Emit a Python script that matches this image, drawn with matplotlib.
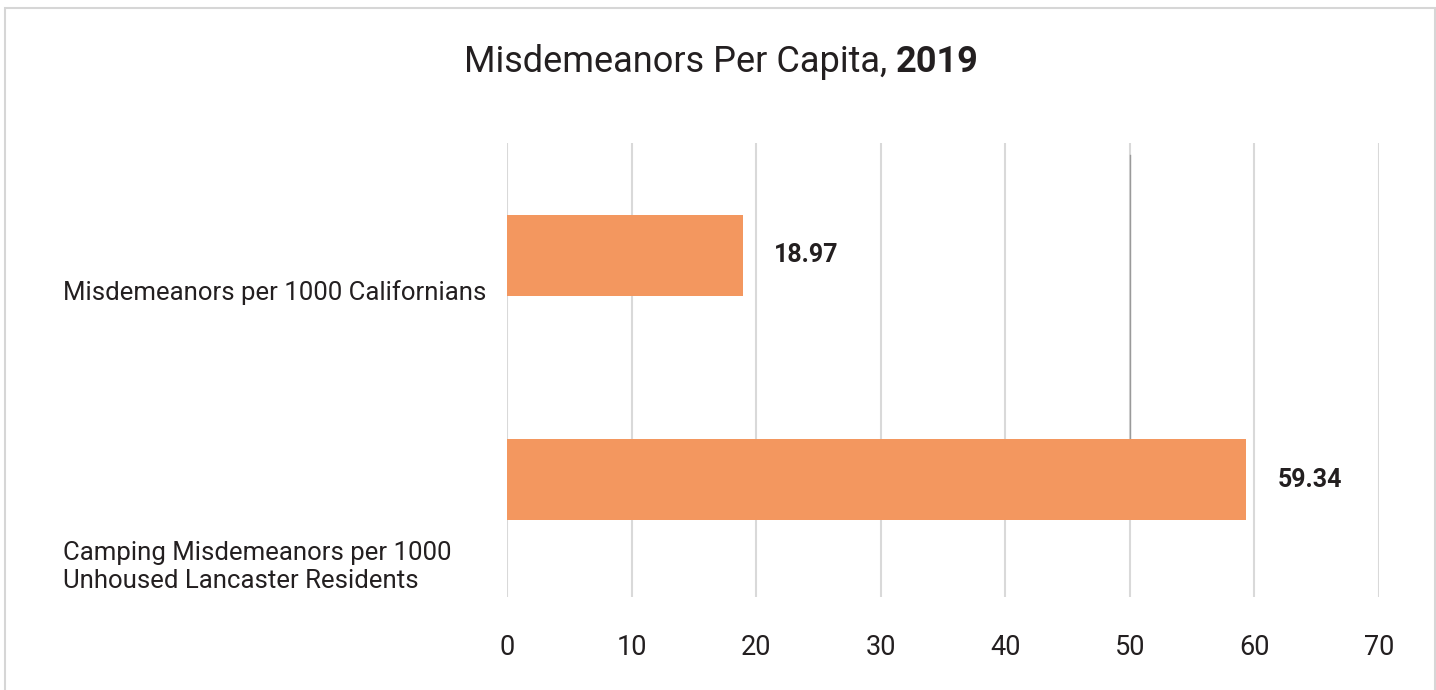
import matplotlib
matplotlib.use("Agg")
import matplotlib.pyplot as plt
from matplotlib.patches import Rectangle

# Data
categories = ["Misdemeanors per 1000 Californians",
              "Camping Misdemeanors per 1000\nUnhoused Lancaster Residents"]
values = [18.97, 59.34]
value_labels = ["18.97", "59.34"]
xticks = [0, 10, 20, 30, 40, 50, 60, 70]

plt.rcParams['font.family'] = ['Roboto', 'DejaVu Sans']

barColor = '#F3975F'
textColor = '#231F20'
gridColor = '#D9D9D9'

fig = plt.figure(figsize=(14.36, 6.9), dpi=100)
ax = fig.add_axes([0.3531, 0.1348, 0.6072, 0.658])

ypos = list(range(len(categories)))
ax.barh(ypos, values, height=0.36, color=barColor, zorder=2)

ax.set_xlim(0, 70)
ax.set_ylim(1.524, -0.502)
ax.set_xticks(xticks)
ax.set_xticklabels([str(t) for t in xticks], fontsize=19.5, color=textColor)
ax.set_yticks([])
ax.tick_params(axis='x', length=0, pad=27)
for s in ax.spines.values():
    s.set_visible(False)
ax.grid(axis='x', color=gridColor, linewidth=1.5, zorder=0)
ax.set_axisbelow(True)

# darker stretch of the 50 gridline
ax.plot([50, 50], [-0.448, 0.82], color='#9A9A9A', linewidth=1.0, zorder=1)

# value labels
for y, v, lab in zip(ypos, values, value_labels):
    ax.annotate(lab, (v, y), xytext=(31, 0), textcoords='offset pixels',
                ha='left', va='center', fontsize=18, fontweight='bold',
                color=textColor)

# category labels (left aligned)
label_offsets = [0.165, 0.39]
for y, off, cat in zip(ypos, label_offsets, categories):
    ax.text(-0.509, y + off, cat, transform=ax.get_yaxis_transform(),
            ha='left', va='center', fontsize=18.5, color=textColor,
            linespacing=1.2)

# title: normal part + bold year
renderer = fig.canvas.get_renderer()
t1 = fig.text(0, 0.91, "Misdemeanors Per Capita, ", fontsize=26,
              color=textColor, va='center', ha='left')
t2 = fig.text(0, 0.91, "2019", fontsize=26, fontweight='bold',
              color=textColor, va='center', ha='left')
w1 = t1.get_window_extent(renderer).width
w2 = t2.get_window_extent(renderer).width
figW = fig.get_figwidth() * fig.dpi
x0 = (721 - (w1 + w2) / 2) / figW
t1.set_x(x0)
t2.set_x(x0 + w1 / figW)

# outer frame
fig.patches.append(Rectangle((5 / 1436, -0.05), 1430 / 1436, 1.05 - 8 / 690,
                             transform=fig.transFigure, fill=False,
                             edgecolor='#D6D6D6', linewidth=1.5))

fig.savefig('out.png', dpi=100, facecolor='white')
